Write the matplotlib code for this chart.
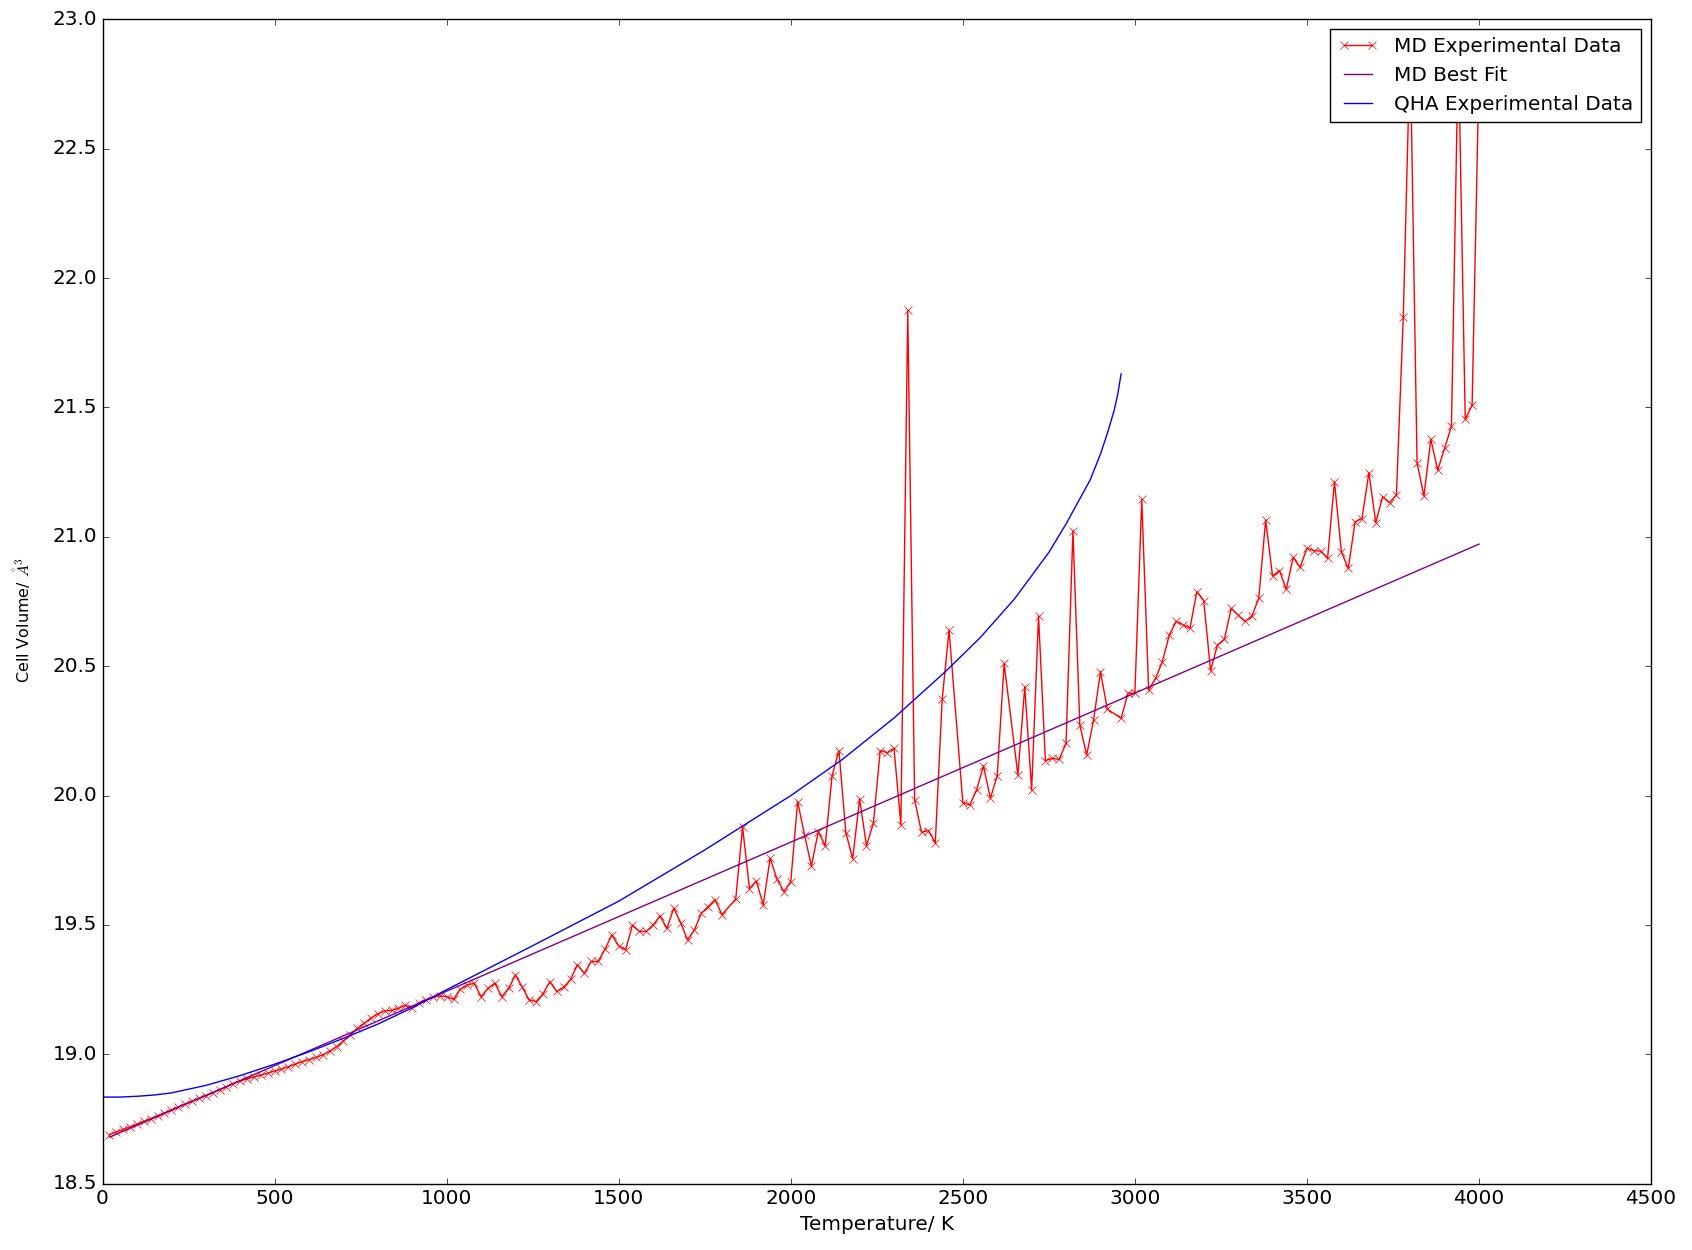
import numpy as np
import matplotlib
matplotlib.use('Agg')
import matplotlib.pyplot as plt

# MD run: one point every 20 K, some temperatures have no point (nan)
md_temp = np.arange(20, 4001, 20)
md_vol = np.array([
    18.690, 18.700, 18.710, 18.720, 18.730, 18.741, 18.752, 18.763, 18.774, 18.786,
    18.797, 18.808, 18.819, 18.830, 18.840, 18.851, 18.863, 18.874, 18.887, 18.897,
    18.905, 18.913, 18.920, 18.927, 18.936, 18.943, 18.952, 18.962, 18.972, 18.980,
    18.988, 18.998, 19.012, 19.030, 19.052, 19.076, 19.100, 19.120, 19.140, 19.157,
    19.168, 19.170, 19.178, 19.190, 19.180, 19.200, 19.212, 19.220, 19.226, 19.223,
    19.213, 19.252, 19.268, 19.275, 19.223, 19.255, 19.275, 19.223, 19.255, 19.307,
    19.259, 19.210, 19.204, 19.234, 19.281, 19.243, 19.259, 19.290, 19.346, 19.313,
    19.359, 19.359, 19.406, 19.462, 19.419, 19.404, 19.500, 19.475, 19.475, 19.500,
    19.535, 19.487, 19.565, 19.509, 19.442, 19.481, 19.545, 19.571, 19.598, 19.540,
    np.nan, 19.600, 19.878, 19.641, 19.670, 19.578, 19.758, 19.677, 19.629, 19.668,
    19.977, 19.848, 19.728, 19.861, 19.806, 20.076, 20.174, 19.857, 19.757, 19.987,
    19.807, 19.893, 20.174, 20.166, 20.183, 19.887, 21.875, 19.983, 19.858, 19.865,
    19.818, 20.372, 20.640, np.nan, 19.973, 19.964, 20.022, 20.115, 19.990, 20.076,
    20.511, np.nan, 20.080, 20.421, 20.022, 20.694, 20.135, 20.144, 20.140, 20.202,
    21.024, 20.273, 20.157, 20.292, 20.479, 20.334, np.nan, 20.299, 20.396, 20.396,
    21.145, 20.408, 20.453, 20.518, 20.621, 20.673, 20.660, 20.647, 20.788, 20.754,
    20.483, 20.582, 20.604, 20.724, 20.698, 20.673, 20.694, 20.763, 21.065, 20.849,
    20.870, 20.797, 20.921, 20.882, 20.956, 20.947, 20.945, 20.917, 21.213, 20.943,
    20.878, 21.058, 21.071, 21.248, 21.055, 21.155, 21.132, 21.162, 21.851, 22.900,
    21.286, 21.158, 21.377, 21.258, 21.342, 21.428, 22.900, 21.454, 21.509, 22.800,
])

# linear best fit to the MD data
fit_temp = [20, 4000]
fit_vol = [18.680, 20.972]

# quasi-harmonic result
qha_temp = [0, 50, 100, 150, 200, 300, 400, 500, 600, 700, 800, 900, 1000, 1100,
            1250, 1500, 1750, 2000, 2150, 2300, 2450, 2550, 2650, 2750, 2800, 2870,
            2900, 2920, 2940, 2950, 2960]
qha_vol = [18.835, 18.835, 18.838, 18.843, 18.851, 18.880, 18.918, 18.962, 19.010,
           19.062, 19.117, 19.180, 19.250, 19.318, 19.420, 19.592, 19.790, 20.000,
           20.140, 20.300, 20.480, 20.610, 20.760, 20.940, 21.050, 21.220, 21.320,
           21.400, 21.490, 21.550, 21.630]

plt.style.use('classic')
plt.rcParams['font.size'] = 12

keep = ~np.isnan(md_vol)

fig = plt.figure(figsize=(16.92, 12.5))
ax = fig.add_subplot(111)
fig.subplots_adjust(left=0.0606, right=0.9758, bottom=0.053, top=0.9845)

ax.plot(md_temp[keep], md_vol[keep], 'r-x', label='MD Experimental Data')
ax.plot(fit_temp, fit_vol, color='purple', label='MD Best Fit')
ax.plot(qha_temp, qha_vol, 'b-', label='QHA Experimental Data')

ax.set_xlim(0, 4500)
ax.set_ylim(18.5, 23.0)
ax.tick_params(labelsize=14.4)
ax.set_xlabel('Temperature/ K', fontsize=14.4)
ax.set_ylabel(r'Cell Volume/ $\mathring{A}^3$', fontsize=11.5)
ax.yaxis.set_label_coords(-0.045, 0.484)
ax.legend(loc='upper right')

fig.savefig('out.png', dpi=100)
